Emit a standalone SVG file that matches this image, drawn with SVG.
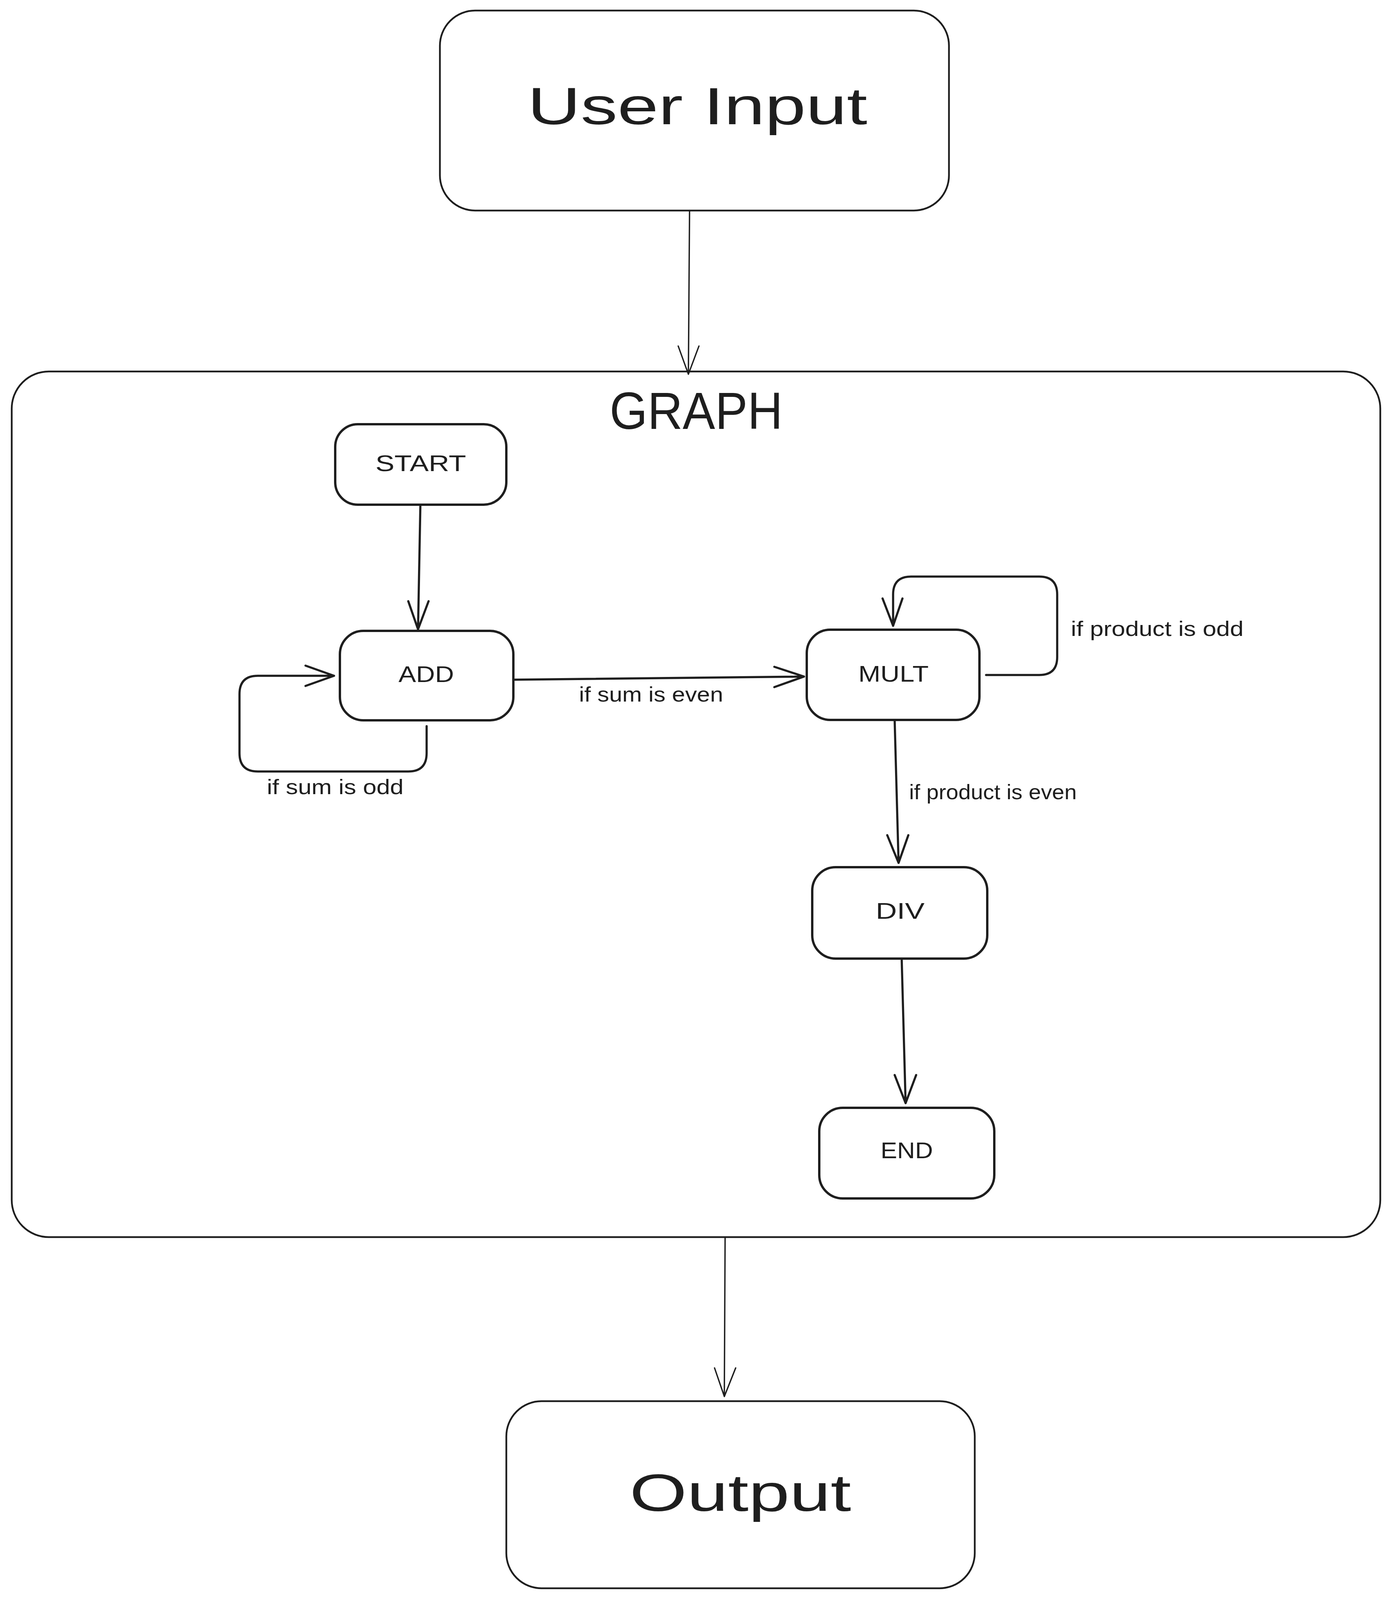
<svg xmlns="http://www.w3.org/2000/svg" width="3563" height="4654" viewBox="0 0 3563 4654">
<style>
.box{fill:#ffffff;stroke:#1e1e1e;stroke-linejoin:round}
.big{stroke-width:4.5}
.node{stroke-width:6}
.edge{fill:none;stroke:#1e1e1e;stroke-linecap:round;stroke-linejoin:round}
.thin{stroke-width:3.5}
.mid{stroke-width:5.5}
.t{font-family:"Liberation Sans","DejaVu Sans",sans-serif;fill:#1e1e1e}
.lbl{font-size:53px}
.nl{font-size:58px;text-anchor:middle}
.hl{font-size:134px;text-anchor:middle}
</style>
<rect width="3563" height="4654" fill="#ffffff"/>
<g id="graph-container">
<rect class="box big" x="30" y="951" width="3503" height="2216" rx="95" ry="95"/>
<text class="t hl" x="1782" y="1098" font-size="127" textLength="443" lengthAdjust="spacingAndGlyphs">GRAPH</text>
</g>
<g id="connectors">
<path class="edge thin" d="M1765 539 L1762 958 M1736 886 L1762 958 L1789 886"/>
<path class="edge mid" d="M1076 1293 L1070 1611 M1045 1539 L1070 1611 L1097 1539"/>
<path class="edge mid" d="M1092 1859 L1092 1928 Q1092 1975 1045 1975 L660 1975 Q613 1975 613 1928 L613 1777 Q613 1730 660 1730 L855 1730 M782 1704 L855 1730 L782 1756"/>
<path class="edge mid" d="M1318 1740 L2058 1732 M1982 1707 L2058 1732 L1982 1759"/>
<path class="edge mid" d="M2524 1728 L2660 1728 Q2706 1728 2706 1682 L2706 1522 Q2706 1476 2660 1476 L2332 1476 Q2286 1476 2286 1522 L2286 1602 M2259 1532 L2286 1602 L2310 1532"/>
<path class="edge mid" d="M2290 1844 L2300 2209 M2271 2138 L2300 2209 L2325 2138"/>
<path class="edge mid" d="M2308 2455 L2318 2824 M2290 2752 L2318 2824 L2345 2752"/>
<path class="edge thin" d="M1856 3168 L1854 3575 M1829 3502 L1854 3575 L1883 3502"/>
<text class="t lbl" x="683" y="2033" textLength="350" lengthAdjust="spacingAndGlyphs">if sum is odd</text>
<text class="t lbl" x="1482" y="1796" textLength="369" lengthAdjust="spacingAndGlyphs">if sum is even</text>
<text class="t lbl" x="2741" y="1628" textLength="442" lengthAdjust="spacingAndGlyphs">if product is odd</text>
<text class="t lbl" x="2327" y="2046" textLength="429" lengthAdjust="spacingAndGlyphs">if product is even</text>
</g>
<g id="user-input">
<rect class="box big" x="1126" y="27" width="1303" height="512" rx="90" ry="90"/>
<text class="t hl" x="1785" y="318" textLength="870" lengthAdjust="spacingAndGlyphs">User Input</text>
</g>
<g id="start">
<rect class="box node" x="858" y="1086" width="438" height="206" rx="58" ry="58"/>
<text class="t nl" x="1077" y="1206" textLength="232" lengthAdjust="spacingAndGlyphs">START</text>
</g>
<g id="add">
<rect class="box node" x="870" y="1615" width="444" height="229" rx="60" ry="60"/>
<text class="t nl" x="1091" y="1746" textLength="142" lengthAdjust="spacingAndGlyphs">ADD</text>
</g>
<g id="mult">
<rect class="box node" x="2065" y="1612" width="442" height="231" rx="60" ry="60"/>
<text class="t nl" x="2287" y="1745" textLength="180" lengthAdjust="spacingAndGlyphs">MULT</text>
</g>
<g id="div">
<rect class="box node" x="2079" y="2220" width="448" height="234" rx="60" ry="60"/>
<text class="t nl" x="2304" y="2352" textLength="125" lengthAdjust="spacingAndGlyphs">DIV</text>
</g>
<g id="end">
<rect class="box node" x="2097" y="2836" width="448" height="232" rx="60" ry="60"/>
<text class="t nl" x="2321" y="2965" textLength="134" lengthAdjust="spacingAndGlyphs">END</text>
</g>
<g id="output">
<rect class="box big" x="1296" y="3587" width="1199" height="479" rx="90" ry="90"/>
<text class="t hl" x="1895" y="3868" textLength="567" lengthAdjust="spacingAndGlyphs">Output</text>
</g>
</svg>
